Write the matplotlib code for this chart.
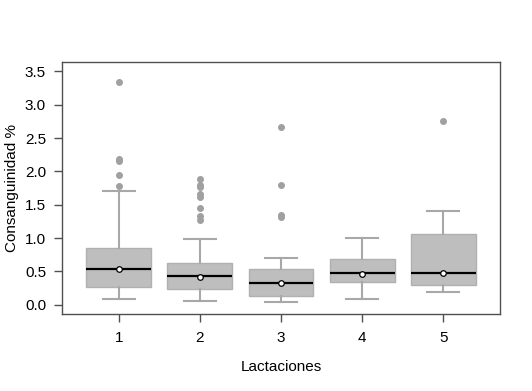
import matplotlib
matplotlib.use("Agg")
import matplotlib.pyplot as plt

plt.rcParams['font.family'] = ['Liberation Sans', 'DejaVu Sans']

categories = ["1", "2", "3", "4", "5"]
whisker_low = [0.085, 0.055, 0.045, 0.08, 0.185]
q1 = [0.27, 0.239, 0.135, 0.344, 0.30]
medians = [0.538, 0.43, 0.324, 0.468, 0.478]
means = [0.53, 0.42, 0.32, 0.465, 0.475]
q3 = [0.857, 0.628, 0.528, 0.683, 1.062]
whisker_high = [1.70, 0.98, 0.703, 0.997, 1.406]
outliers = [
    [3.335, 2.18, 2.16, 1.94, 1.78],
    [1.885, 1.80, 1.77, 1.655, 1.615, 1.445, 1.335, 1.267],
    [2.66, 1.79, 1.34, 1.32],
    [],
    [2.752],
]
yticks = [0.0, 0.5, 1.0, 1.5, 2.0, 2.5, 3.0, 3.5]

stats = []
for i, c in enumerate(categories):
    stats.append(dict(label=c, whislo=whisker_low[i], q1=q1[i], med=medians[i],
                      q3=q3[i], whishi=whisker_high[i], fliers=outliers[i],
                      mean=means[i]))

fig = plt.figure(figsize=(5.32, 3.91), dpi=100)
ax = fig.add_axes([62/532, 1-314/391, 438/532, 252/391])

gray_box = '#bebebe'
gray_line = '#a8a8a8'
ax.bxp(stats, positions=range(1, 6), widths=0.8, patch_artist=True,
       showmeans=True, meanline=False,
       boxprops=dict(facecolor=gray_box, edgecolor='#b0b0b0', linewidth=1.0),
       whiskerprops=dict(color=gray_line, linewidth=1.5),
       capprops=dict(color=gray_line, linewidth=1.5),
       capwidths=0.4,
       medianprops=dict(color='black', linewidth=1.6),
       meanprops=dict(marker='o', markerfacecolor='white', markeredgecolor='black',
                      markersize=4, markeredgewidth=0.9),
       flierprops=dict(marker='o', markerfacecolor='#a0a0a0', markeredgecolor='#a0a0a0',
                       markersize=4))

ax.set_xlim(0.3, 5.7)
ax.set_ylim(-0.14, 3.64)
ax.set_yticks(yticks)
ax.set_yticklabels([f"{v:.1f}" for v in yticks])
ax.set_xticks(range(1, 6))
ax.set_xticklabels(categories)
for s in ax.spines.values():
    s.set_color('#505050')
    s.set_linewidth(1.0)
ax.tick_params(axis='both', colors='#505050', labelcolor='black', labelsize=11,
               length=6, width=1.0)
ax.tick_params(axis='x', pad=6)
ax.tick_params(axis='y', pad=5.5)
ax.set_xlabel("Lactaciones", fontsize=11)
ax.set_ylabel("Consanguinidad %", fontsize=11)
ax.xaxis.label.set_va('center')
ax.yaxis.label.set_va('center')
ax.xaxis.set_label_coords(0.5, -0.209)
ax.yaxis.set_label_coords(-0.114, 0.5)

fig.savefig("out.png", dpi=100)
